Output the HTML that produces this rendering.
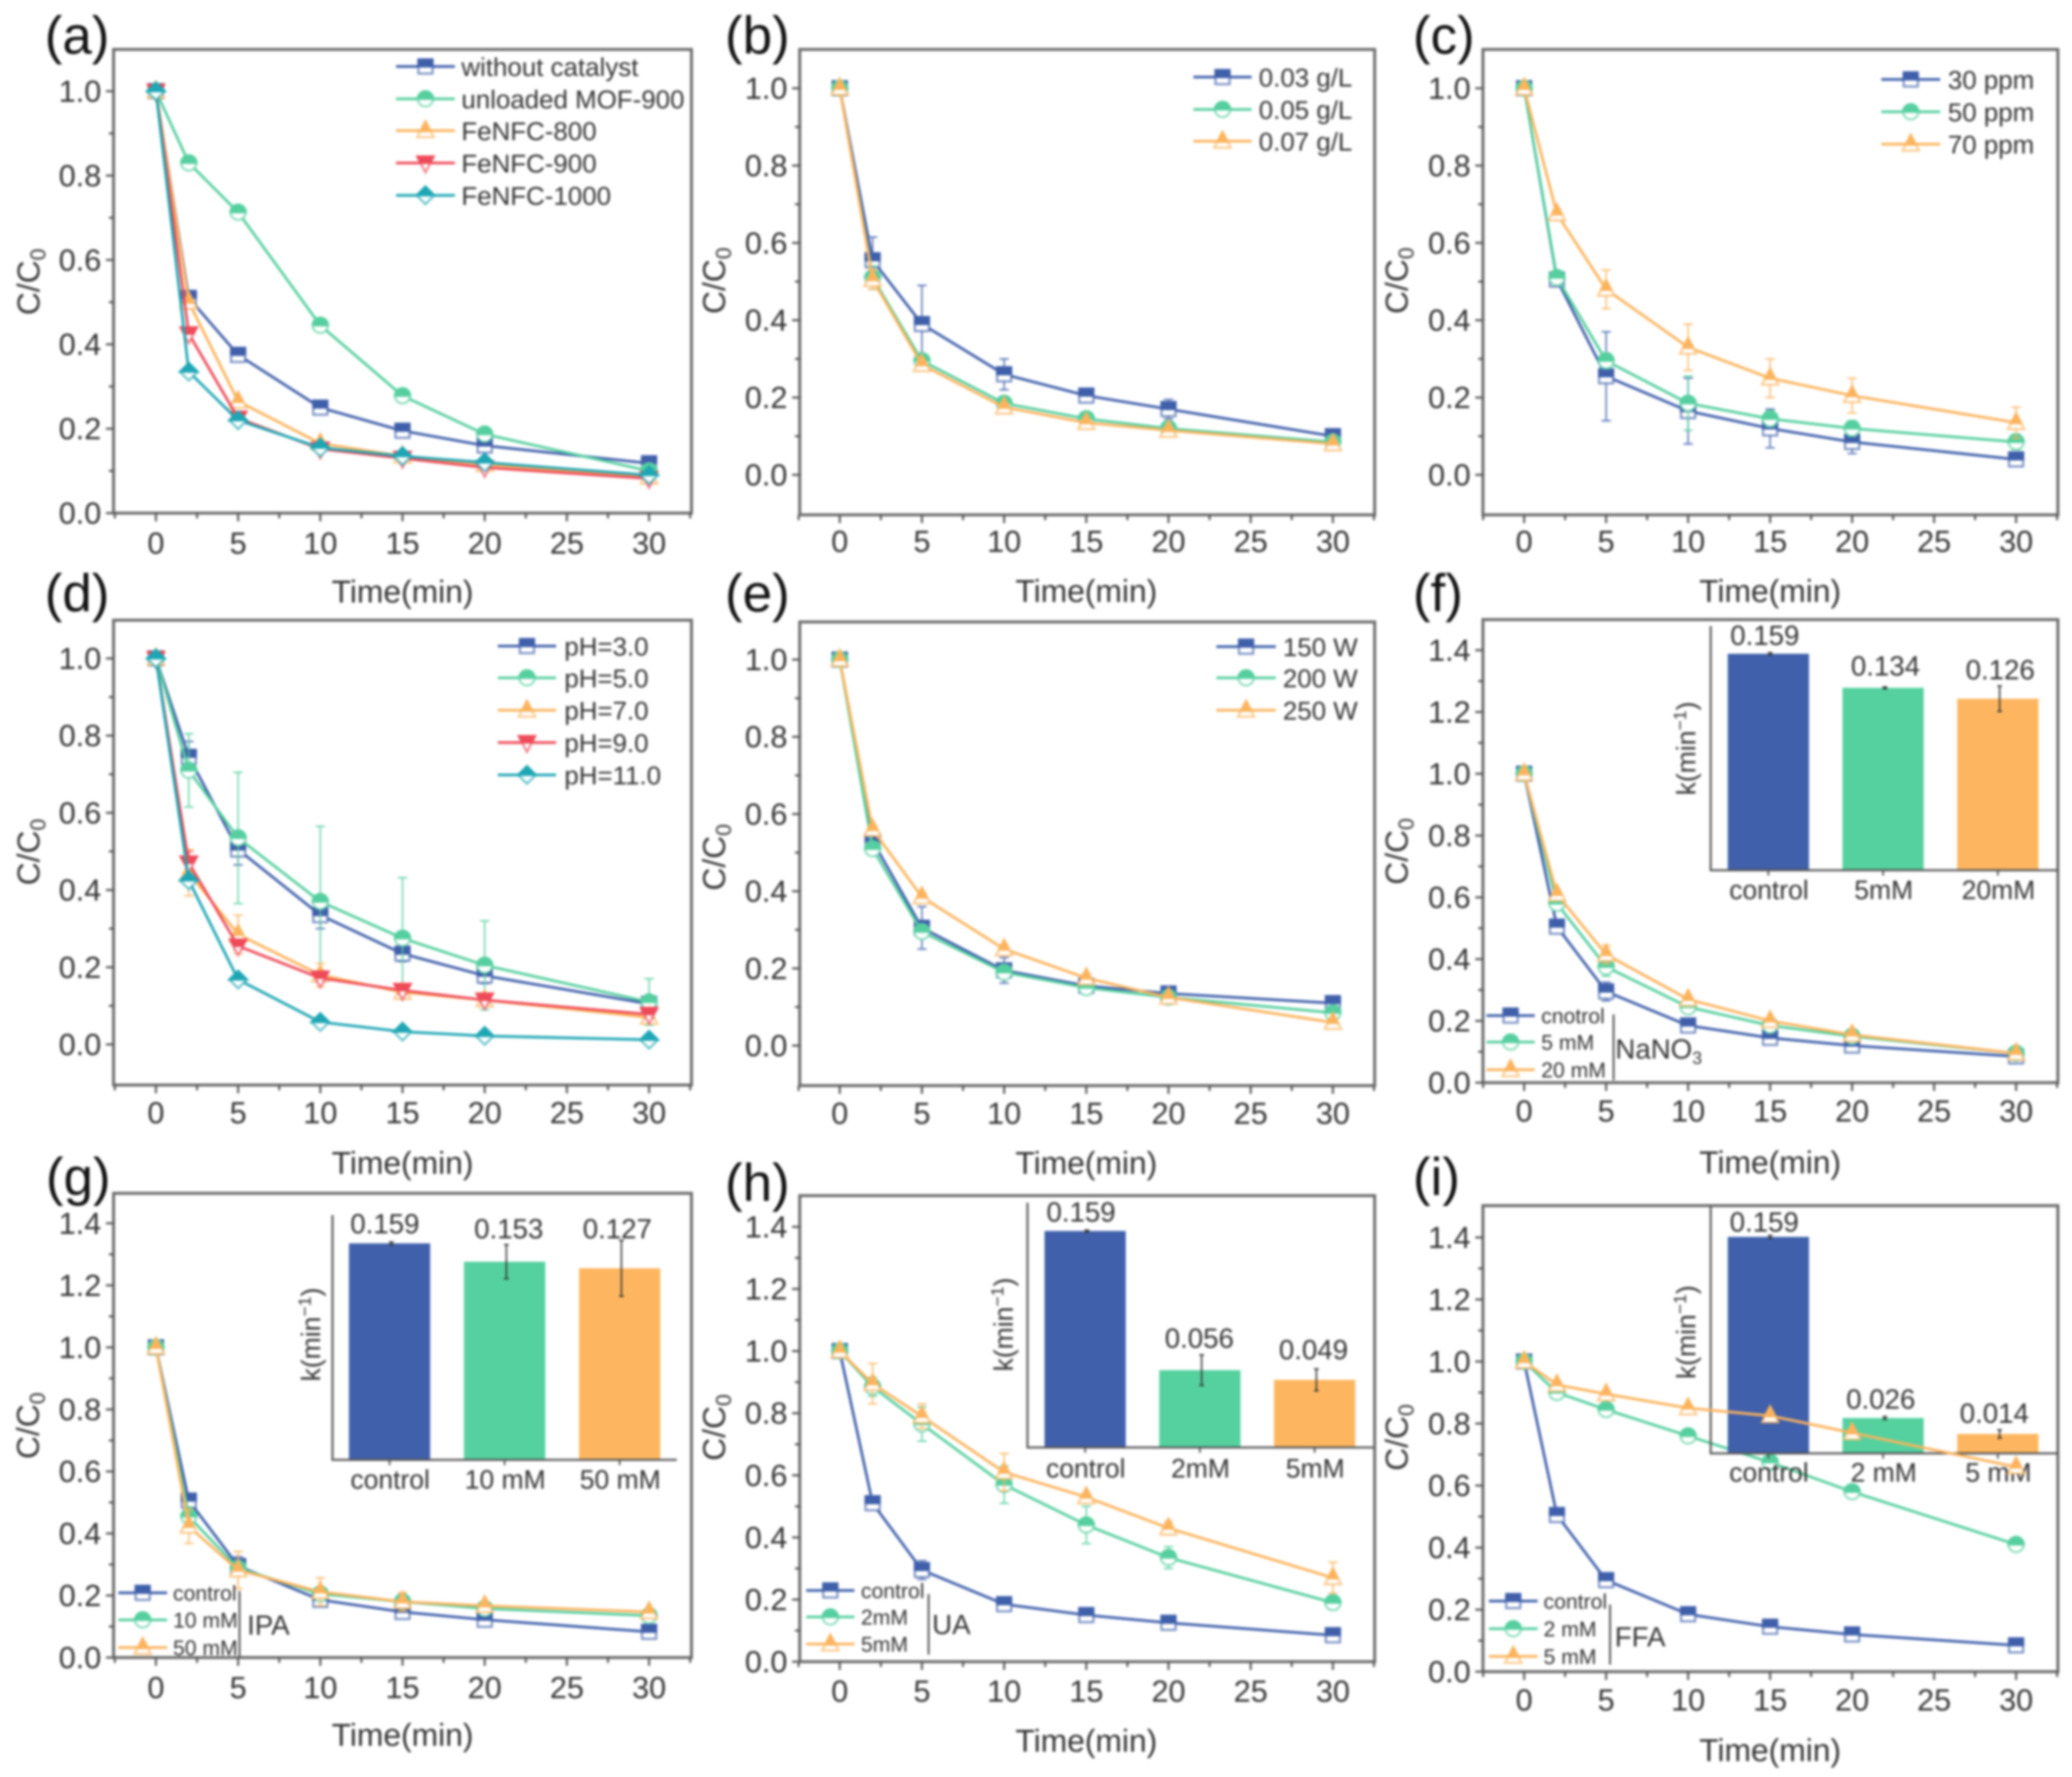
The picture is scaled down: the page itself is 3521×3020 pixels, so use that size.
<!DOCTYPE html>
<html lang="en">
<head>
<meta charset="utf-8">
<title>Degradation kinetics panels</title>
<style>
html,body{margin:0;padding:0;background:#fff;}
#figure{display:block;width:3521px;height:3020px;filter:blur(2.2px);font-family:"Liberation Sans",sans-serif;}
text{font-family:"Liberation Sans",sans-serif;fill:#333;}
</style>
</head>
<body>
<svg id="figure" xmlns="http://www.w3.org/2000/svg" width="3521" height="3020" viewBox="0 0 3521 3020"></svg>
<script>
const timeMinutes=[0,2,5,10,15,20,30];
const xTickLabels=[0,5,10,15,20,25,30];
const yTicksUnit=[0,0.2,0.4,0.6,0.8,1.0];
const yTicksRate=[0,0.2,0.4,0.6,0.8,1.0,1.2,1.4];

const aLabels=["without catalyst","unloaded MOF-900","FeNFC-800","FeNFC-900","FeNFC-1000"];
const aWithout=[1,0.51,0.375,0.25,0.195,0.16,0.118];
const aMof=[1,0.83,0.713,0.445,0.278,0.187,0.10];
const aFe800=[1,0.50,0.265,0.165,0.135,0.115,0.085];
const aFe900=[1,0.425,0.225,0.152,0.13,0.108,0.082];
const aFe1000=[1,0.335,0.22,0.155,0.135,0.12,0.09];

const bLabels=["0.03 g/L","0.05 g/L","0.07 g/L"];
const b003=[1,0.555,0.39,0.26,0.205,0.17,0.10];
const b005=[1,0.51,0.295,0.185,0.145,0.12,0.085];
const b007=[1,0.505,0.285,0.175,0.135,0.115,0.08];
const b003Err=[0,0.06,0.10,0.04,0.015,0.025,0.01];
const b005Err=[0,0.03,0.012,0.012,0.01,0.01,0.01];
const b007Err=[0,0.025,0.01,0.01,0.01,0.01,0.01];

const cLabels=["30 ppm","50 ppm","70 ppm"];
const c30=[1,0.505,0.255,0.165,0.12,0.085,0.04];
const c50=[1,0.51,0.295,0.185,0.145,0.12,0.085];
const c70=[1,0.675,0.48,0.33,0.25,0.205,0.135];
const c30Err=[0,0.01,0.115,0.085,0.05,0.03,0.01];
const c50Err=[0,0.01,0.02,0.07,0.02,0.02,0.02];
const c70Err=[0,0.01,0.05,0.06,0.05,0.045,0.04];

const dLabels=["pH=3.0","pH=5.0","pH=7.0","pH=9.0","pH=11.0"];
const dPh3=[1,0.745,0.505,0.335,0.235,0.178,0.105];
const dPh5=[1,0.71,0.535,0.37,0.275,0.205,0.11];
const dPh7=[1,0.445,0.285,0.18,0.135,0.115,0.07];
const dPh9=[1,0.47,0.255,0.172,0.14,0.115,0.078];
const dPh11=[1,0.425,0.168,0.058,0.033,0.022,0.012];
const dPh3Err=[0,0.04,0.04,0.035,0.02,0.02,0.02];
const dPh5Err=[0,0.095,0.17,0.195,0.157,0.115,0.06];
const dPh7Err=[0,0.06,0.05,0.03,0.01,0.01,0.01];
const dPh9Err=[0,0.03,0.01,0.01,0.01,0.01,0.01];
const dPh11Err=[0,0.01,0.005,0.005,0.005,0.005,0.005];

const eLabels=["150 W","200 W","250 W"];
const e150=[1,0.53,0.305,0.195,0.155,0.135,0.11];
const e200=[1,0.51,0.295,0.19,0.15,0.125,0.085];
const e250=[1,0.56,0.385,0.25,0.175,0.125,0.06];
const e150Err=[0,0.025,0.055,0.033,0.01,0.01,0.01];
const e200Err=[0,0.01,0.01,0.01,0.01,0.01,0.01];
const e250Err=[0,0.01,0.01,0.01,0.01,0.01,0.01];

const fLabels=["cnotrol","5 mM","20 mM"];
const fControl=[1,0.505,0.295,0.185,0.145,0.12,0.085];
const f5=[1,0.58,0.375,0.245,0.185,0.15,0.095];
const f20=[1,0.61,0.415,0.27,0.20,0.155,0.095];
const fErr=[0,0.01,0.03,0.01,0.01,0.01,0.01];
const fCats=["control","5mM","20mM"];
const fPrinted=["0.159","0.134","0.126"];
const fBars=[0.159,0.134,0.126];
const fBarErr=[0.0008,0.0006,0.0093];

const gLabels=["control","10 mM","50 mM"];
const gControl=[1,0.506,0.295,0.186,0.147,0.122,0.083];
const g10=[1,0.455,0.288,0.205,0.18,0.158,0.135];
const g50=[1,0.423,0.282,0.212,0.18,0.167,0.147];
const g10Err=[0,0.03,0.015,0.02,0.01,0.01,0.01];
const g50Err=[0,0.055,0.06,0.045,0.03,0.01,0.01];
const gCats=["control","10 mM","50 mM"];
const gPrinted=["0.159","0.153","0.127"];
const gBars=[0.159,0.1455,0.1407];
const gBarErr=[0.001,0.0125,0.0205];

const hLabels=["control","2mM","5mM"];
const hControl=[1,0.51,0.295,0.185,0.15,0.125,0.085];
const h2=[1,0.885,0.765,0.57,0.44,0.335,0.19];
const h5=[1,0.895,0.79,0.61,0.53,0.43,0.27];
const h2Err=[0,0.03,0.055,0.06,0.06,0.035,0.02];
const h5Err=[0,0.065,0.04,0.06,0.01,0.02,0.05];
const hCats=["control","2mM","5mM"];
const hPrinted=["0.159","0.056","0.049"];
const hBars=[0.159,0.0568,0.0497];
const hBarErr=[0.0006,0.0112,0.008];

const iLabels=["control","2 mM","5 mM"];
const iControl=[1,0.505,0.295,0.185,0.145,0.12,0.085];
const i2=[1,0.90,0.845,0.76,0.675,0.58,0.41];
const i5=[1,0.925,0.895,0.85,0.825,0.77,0.66];
const iErr=[0,0.01,0.01,0.01,0.01,0.01,0.01];
const iCats=["control","2 mM","5 mM"];
const iPrinted=["0.159","0.026","0.014"];
const iBars=[0.159,0.026,0.0143];
const iBarErr=[0.001,0.001,0.003];

const BLUE="#3f5faa",GREEN="#55cf9f",ORANGE="#fcb35c",RED="#ee4a58",TEAL="#1ea6b4";
const BAR_COLORS=["#4060ab","#54d19f","#fdb65f"];
const STYLE_3=[{c:BLUE,m:"square"},{c:GREEN,m:"circle"},{c:ORANGE,m:"up"}];
const STYLE_5=[{c:BLUE,m:"square"},{c:GREEN,m:"circle"},{c:ORANGE,m:"up"},{c:RED,m:"down"},{c:TEAL,m:"diamond"}];
const KIN_SCALE=2314;

const COL1={L:193,R:1175,x0:265,x30:1103};
const COL2={L:1359,R:2336,x0:1427,x30:2265};
const COL3={L:2520,R:3497,x0:2590,x30:3426};

const panels=[
 {id:"a",col:COL1,T:84,B:872,yA:0,pxA:872,yB:1,pxB:155,ticks:yTicksUnit,lab:[76,91],yt:[67,479],tickDy:69,timeDy:152,
  values:[aWithout,aMof,aFe800,aFe900,aFe1000],errors:[],styles:STYLE_5,labels:aLabels,
  leg:{x1:673,x2:773,tx:784,ys:[113,168,222,277,332],fs:44}},
 {id:"b",col:COL2,T:84,B:875,yA:0,pxA:807,yB:1,pxB:150,ticks:yTicksUnit,lab:[1232,91],yt:[1232,477],tickDy:63,timeDy:148,
  values:[b003,b005,b007],errors:[b003Err,b005Err,b007Err],styles:STYLE_3,labels:bLabels,
  leg:{x1:2028,x2:2127,tx:2139,ys:[131,186,240],fs:44}},
 {id:"c",col:COL3,T:84,B:875,yA:0,pxA:807,yB:1,pxB:150,ticks:yTicksUnit,lab:[2401,91],yt:[2392,477],tickDy:63,timeDy:148,
  values:[c30,c50,c70],errors:[c30Err,c50Err,c70Err],styles:STYLE_3,labels:cLabels,
  leg:{x1:3197,x2:3297,tx:3310,ys:[135,190,245],fs:44}},
 {id:"d",col:COL1,T:1054,B:1844,yA:0,pxA:1775,yB:1,pxB:1119,ticks:yTicksUnit,lab:[76,1039],yt:[67,1448],tickDy:65,timeDy:151,
  values:[dPh3,dPh5,dPh7,dPh9,dPh11],errors:[dPh3Err,dPh5Err,dPh7Err,dPh9Err,dPh11Err],styles:STYLE_5,labels:dLabels,
  leg:{x1:846,x2:945,tx:959,ys:[1098,1152,1207,1262,1317],fs:44}},
 {id:"e",col:COL2,T:1057,B:1845,yA:0,pxA:1777,yB:1,pxB:1121,ticks:yTicksUnit,lab:[1232,1039],yt:[1232,1457],tickDy:65,timeDy:150,
  values:[e150,e200,e250],errors:[e150Err,e200Err,e250Err],styles:STYLE_3,labels:eLabels,
  leg:{x1:2067,x2:2168,tx:2180,ys:[1099,1152,1207],fs:44}},
 {id:"f",col:COL3,T:1053,B:1840,yA:0,pxA:1840,yB:1.4,pxB:1105,ticks:yTicksRate,lab:[2401,1039],yt:[2392,1447],tickDy:66,timeDy:154,
  values:[fControl,f5,f20],errors:[fErr,fErr,fErr],styles:STYLE_3,labels:fLabels,
  leg:{x1:2526,x2:2608,tx:2619,ys:[1726,1771,1818],fs:36,barX:2742,barY1:1724,barY2:1836,note:"NaNO",noteSub:"3",noteX:2745,noteY:1799,noteFs:47},
  inset:{axisX:2907,bottom:1479,top:1064,right:3497,bandStart:2936,step:195,barW:138,bars:fBars,err:fBarErr,printed:fPrinted,cats:fCats,
   labelOff:[[-6,-15],[4,-21],[4,-33]],catY:1528,kX:2867,kY:1272}},
 {id:"g",col:COL1,T:2028,B:2817,yA:0,pxA:2817,yB:1.4,pxB:2079,ticks:yTicksRate,lab:[78,2031],yt:[66,2423],tickDy:69,timeDy:150,
  values:[gControl,g10,g50],errors:[fErr,g10Err,g50Err],styles:STYLE_3,labels:gLabels,
  leg:{x1:201,x2:284,tx:294,ys:[2707,2753,2800],fs:36,barX:407,barY1:2704,barY2:2815,note:"IPA",noteX:420,noteY:2778,noteFs:47},
  inset:{axisX:565,bottom:2481,top:2065,right:1150,bandStart:593,step:195.5,barW:138,bars:gBars,err:gBarErr,printed:gPrinted,cats:gCats,
   labelOff:[[-8,-17],[7,-40],[-4,-51]],catY:2530,kX:530,kY:2268}},
 {id:"h",col:COL2,T:2032,B:2824,yA:0,pxA:2824,yB:1.4,pxB:2085,ticks:yTicksRate,lab:[1232,2041],yt:[1232,2426],tickDy:68,timeDy:153,
  values:[hControl,h2,h5],errors:[fErr,h2Err,h5Err],styles:STYLE_3,labels:hLabels,
  leg:{x1:1370,x2:1452,tx:1463,ys:[2703,2748,2794],fs:36,barX:1578,barY1:2709,barY2:2812,note:"UA",noteX:1584,noteY:2777,noteFs:47},
  inset:{axisX:1746,bottom:2460,top:2044,right:2334,bandStart:1775,step:195,barW:138,bars:hBars,err:hBarErr,printed:hPrinted,cats:hCats,
   labelOff:[[-7,-16],[-1,-38],[-2,-35]],catY:2511,kX:1707,kY:2251}},
 {id:"i",col:COL3,T:2049,B:2841,yA:0,pxA:2841,yB:1.4,pxB:2103,ticks:yTicksRate,lab:[2401,2031],yt:[2392,2443],tickDy:66,timeDy:152,
  values:[iControl,i2,i5],errors:[iErr,iErr,iErr],styles:STYLE_3,labels:iLabels,overInset:[2],
  leg:{x1:2530,x2:2613,tx:2623,ys:[2721,2768,2815],fs:36,barX:2736,barY1:2727,barY2:2829,note:"FFA",noteX:2744,noteY:2798,noteFs:47},
  inset:{axisX:2907,bottom:2470,top:2049,right:3497,bandStart:2936,step:195,barW:138,bars:iBars,err:iBarErr,printed:iPrinted,cats:iCats,
   labelOff:[[-7,-9],[-4,-16],[-6,-19]],catY:2518,kX:2867,kY:2264}}
];

const svg=document.getElementById("figure");
const NS="http://www.w3.org/2000/svg";
function make(tag,attrs,parent,txt){
  const n=document.createElementNS(NS,tag);
  for(const k in attrs)n.setAttribute(k,attrs[k]);
  if(txt!==undefined)n.textContent=txt;
  parent.appendChild(n);
  return n;
}
function marker(kind,cx,cy,color,parent){
  const g=make("g",{},parent);
  const r=12,sw=3.5;
  let full,half;
  if(kind==="square"){
    full=`M${cx-r} ${cy-r}H${cx+r}V${cy+r}H${cx-r}Z`;
    half=`M${cx-r} ${cy-r}H${cx+r}V${cy}H${cx-r}Z`;
  }else if(kind==="circle"){
    const R=r+1;
    full=`M${cx-R} ${cy}A${R} ${R} 0 1 1 ${cx+R} ${cy}A${R} ${R} 0 1 1 ${cx-R} ${cy}Z`;
    half=`M${cx-R} ${cy}A${R} ${R} 0 0 1 ${cx+R} ${cy}Z`;
  }else if(kind==="up"){
    const R=r+2;
    full=`M${cx} ${cy-R-2}L${cx+R} ${cy+R-3}H${cx-R}Z`;
    half=`M${cx} ${cy-R-2}L${cx+R*0.62} ${cy+1}H${cx-R*0.62}Z`;
  }else if(kind==="down"){
    const R=r+2;
    full=`M${cx-R} ${cy-R+3}H${cx+R}L${cx} ${cy+R+2}Z`;
    half=`M${cx-R} ${cy-R+3}H${cx+R}L${cx+R*0.55} ${cy}H${cx-R*0.55}Z`;
  }else{
    const R=r+3;
    full=`M${cx} ${cy-R}L${cx+R} ${cy}L${cx} ${cy+R}L${cx-R} ${cy}Z`;
    half=`M${cx} ${cy-R}L${cx+R} ${cy}H${cx-R}Z`;
  }
  make("path",{d:full,fill:"#fff",stroke:color,"stroke-width":sw,"stroke-opacity":0.7,"stroke-linejoin":"miter"},g);
  make("path",{d:half,fill:color,stroke:color,"stroke-width":sw},g);
  return g;
}
function drawSeries(p,idx,parent,X,Y){
  const st=p.styles[idx];
  const vals=p.values[idx];
  const errs=p.errors[idx];
  const name=p.labels[idx].toLowerCase().replace(/[^a-z0-9]+/g,"-");
  const g=make("g",{},parent);
  
  
  if(errs){
    vals.forEach((v,i)=>{
      if(!errs[i])return;
      const x=X(timeMinutes[i]),yU=Y(v+errs[i]),yD=Y(v-errs[i]);
      const eb=make("path",{d:`M${x} ${yU}V${yD}M${x-8} ${yU}H${x+8}M${x-8} ${yD}H${x+8}`,fill:"none",stroke:st.c,"stroke-width":2.6,"stroke-opacity":0.85},g);
      
      
    });
  }
  const pts=vals.map((v,i)=>`${X(timeMinutes[i])},${Y(v)}`).join(" ");
  const line=make("polyline",{points:pts,fill:"none",stroke:st.c,"stroke-width":4.5,"stroke-linejoin":"round"},g);
  
  
  vals.forEach((v,i)=>{
    const pt=marker(st.m,X(timeMinutes[i]),Y(v),st.c,g);
    
    
  });
}
function drawInset(p,parent){
  const s=p.inset;
  const g=make("g",{},parent);
  
  
  const K=v=>s.bottom-v*KIN_SCALE;
  s.bars.forEach((v,i)=>{
    const left=s.bandStart+i*s.step,cx=left+s.barW/2;
    const bar=make("rect",{x:left,y:K(v),width:s.barW,height:s.bottom-K(v),fill:BAR_COLORS[i]},g);
    
    
    const e=s.err[i];
    const eb=make("path",{d:`M${cx+3} ${K(v+e)}V${K(v-e)}M${cx-1} ${K(v-e)}H${cx+7}M${cx-1} ${K(v+e)}H${cx+7}`,fill:"none",stroke:"#333","stroke-width":2.5},g);
    
    
    const off=s.labelOff[i];
    const val=make("text",{x:cx+off[0],y:K(v)+off[1],"text-anchor":"middle","font-size":47},g,s.printed[i]);
    
    
    const cat=make("text",{x:cx+1,y:s.catY,"text-anchor":"middle","font-size":45},g,s.cats[i]);
    
    
    make("line",{x1:cx,x2:cx,y1:s.bottom,y2:s.bottom+9,stroke:"#555","stroke-width":3},g);
  });
  const ax=make("path",{d:`M${s.axisX} ${s.top}V${s.bottom}H${s.right}`,fill:"none",stroke:"#555","stroke-width":3.5},g);
  
  
  const k=make("text",{x:s.kX+14,y:s.kY,"text-anchor":"middle","font-size":45,transform:`rotate(-90 ${s.kX+14} ${s.kY})`},g);
  
  
  make("tspan",{},k,"k(min");
  make("tspan",{dy:-16,"font-size":30},k,"−1");
  make("tspan",{dy:16},k,")");
}
function drawPanel(p){
  const root=make("g",{},svg);
  
  
  const c=p.col;
  const X=t=>c.x0+(c.x30-c.x0)*t/30;
  const Y=v=>p.pxA+(p.pxB-p.pxA)*(v-p.yA)/(p.yB-p.yA);

  const lab=make("text",{x:p.lab[0],y:p.lab[1],"font-size":90,style:"fill:#111"},root,`(${p.id})`);
  
  

  const frame=make("rect",{x:c.L,y:p.T,width:c.R-c.L,height:p.B-p.T,fill:"none",stroke:"#6b6b6b","stroke-width":5},root);
  
  

  const xAxis=make("g",{},root);
  
  
  for(let i=-1;i<=13;i++){
    const t=i*2.5,major=i%2===0&&i>=0&&i<=12;
    make("line",{x1:X(t),x2:X(t),y1:p.B,y2:p.B+(major?14:9),stroke:"#555","stroke-width":3.5},xAxis);
  }
  xTickLabels.forEach(t=>{
    const tl=make("text",{x:X(t),y:p.B+p.tickDy,"text-anchor":"middle","font-size":52},xAxis,String(t));
    
    
  });
  const xt=make("text",{x:(c.x0+c.x30)/2,y:p.B+p.timeDy,"text-anchor":"middle","font-size":54},xAxis,"Time(min)");
  
  

  const yAxis=make("g",{},root);
  
  
  p.ticks.forEach((v,i)=>{
    make("line",{x1:c.L-13,x2:c.L,y1:Y(v),y2:Y(v),stroke:"#555","stroke-width":3.5},yAxis);
    if(i<p.ticks.length-1){
      const m=(v+p.ticks[i+1])/2;
      make("line",{x1:c.L-8,x2:c.L,y1:Y(m),y2:Y(m),stroke:"#555","stroke-width":3.5},yAxis);
    }
    const tl=make("text",{x:c.L-21,y:Y(v)+18,"text-anchor":"end","font-size":52},yAxis,v.toFixed(1));
    
    
  });
  const yt=make("text",{x:p.yt[0],y:p.yt[1],"text-anchor":"middle","font-size":54,transform:`rotate(-90 ${p.yt[0]} ${p.yt[1]})`},yAxis);
  
  
  make("tspan",{},yt,"C/C");
  make("tspan",{dy:10,"font-size":36},yt,"0");

  const over=p.overInset||[];
  p.values.forEach((_,i)=>{if(!over.includes(i))drawSeries(p,i,root,X,Y);});
  if(p.inset)drawInset(p,root);
  over.forEach(i=>drawSeries(p,i,root,X,Y));

  const lg=p.leg;
  const legend=make("g",{},root);
  
  
  p.labels.forEach((t,i)=>{
    const e=make("g",{},legend);
    
    
    const y=lg.ys[i],st=p.styles[i];
    make("line",{x1:lg.x1,x2:lg.x2,y1:y,y2:y,stroke:st.c,"stroke-width":4.5},e);
    marker(st.m,(lg.x1+lg.x2)/2,y,st.c,e);
    make("text",{x:lg.tx,y:y+lg.fs*0.36,"font-size":lg.fs},e,t);
  });
  if(lg.note){
    make("line",{x1:lg.barX,x2:lg.barX,y1:lg.barY1,y2:lg.barY2,stroke:"#444","stroke-width":3},legend);
    const note=make("text",{x:lg.noteX,y:lg.noteY,"font-size":lg.noteFs},legend);
    
    
    make("tspan",{},note,lg.note);
    if(lg.noteSub)make("tspan",{dy:9,"font-size":30},note,lg.noteSub);
  }
}
panels.forEach(drawPanel);
</script>
</body>
</html>
